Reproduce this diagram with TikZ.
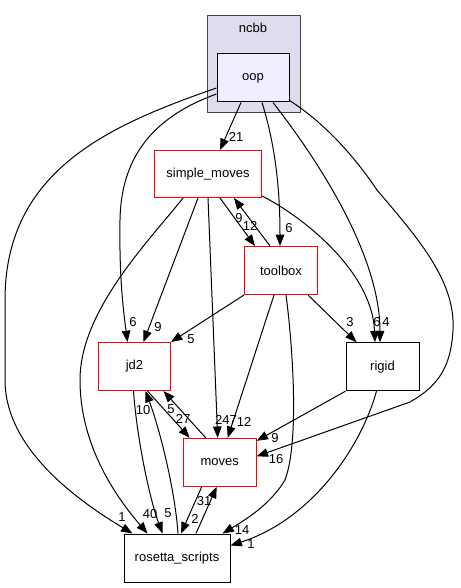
\documentclass[tikz,border=0pt]{standalone}
\usepackage{fontspec}
\setmainfont{Liberation Sans}
\usetikzlibrary{arrows.meta,calc}
\definecolor{clusterfill}{HTML}{DDDDEE}
\definecolor{clusterline}{HTML}{444444}
\definecolor{oopfill}{HTML}{EEEEFF}
\begin{document}
\begin{tikzpicture}[x=0.75pt,y=-0.75pt,
  every node/.style={font=\fontsize{9.75}{11}\selectfont},
  box/.style={draw=black,line width=0.75pt,fill=white,minimum height=36pt,inner sep=0pt},
  redbox/.style={box,draw=red},
  lbl/.style={inner sep=0pt},
  dep/.style={draw=black,line width=0.75pt,-{Triangle[length=8.5pt,width=6.5pt]}}]
\useasboundingbox (0,0) rectangle (460,588);
% cluster
\node[draw=clusterline,fill=clusterfill,line width=0.75pt,minimum width=69.75pt,minimum height=72.75pt,inner sep=0pt] (ncbbc) at (253.5,64.5) {};
\node[lbl] (ncbb) at (253,28) {ncbb};
% nodes
\node[box,fill=oopfill,minimum width=54pt] (oop) at (253,78) {oop};
\node[redbox,minimum width=80.25pt,minimum height=35.25pt] (sm) at (208,174) {simple\_moves};
\node[redbox,minimum width=54.75pt] (tb) at (281,270.5) {toolbox};
\node[redbox,minimum width=54pt] (jd2) at (134.5,366.5) {jd2};
\node[box,minimum width=54.75pt] (rigid) at (382.5,366.7) {rigid};
\node[redbox,minimum width=54.75pt] (moves) at (219.7,462.3) {moves};
\node[box,minimum width=79.5pt] (rs) at (177,558) {rosetta\_scripts};
% edges from oop
\draw[dep] ($(oop.south)+(-12,0)$) -- ($(sm.north)+(12,0)$);
\draw[dep] ($(oop.south)+(9,0)$) .. controls (272,135) and (280,175) .. ($(tb.north)+(-1,0)$);
\draw[dep] ($(oop.south)+(20,0)$) .. controls (310,150) and (380,250) .. ($(rigid.north)+(-2.5,0)$);
\draw[dep] ($(oop.south east)+(0,-2)$) .. controls (320,120) and (350,150) .. (377,190)
   .. controls (415,235) and (456,280) .. (453,330)
   .. controls (451,365) and (440,385) .. (410,402) -- ($(moves.east)+(0,-6)$);
\draw[dep] ($(oop.west)+(0,16)$) .. controls (150,118) and (121,160) .. (120,220)
   .. controls (119,280) and (124,315) .. ($(jd2.north)+(-7,0)$);
\draw[dep] ($(oop.west)+(0,10)$) .. controls (110,125) and (5,170) .. (5,300) -- (5,380)
   .. controls (5,440) and (60,490) .. ($(rs.north west)+(9,0)$);
% simple_moves
\draw[dep] ($(sm.south)+(12,0)$) -- ($(tb.north west)+(11,0)$);
\draw[dep] ($(tb.north)+(-11,0)$) -- ($(sm.south)+(26,0)$);
\draw[dep] ($(sm.south)+(-10,0)$) -- ($(jd2.north)+(9,0)$);
\draw[dep] (sm.south) -- ($(moves.north)+(-2,0)$);
\draw[dep] ($(sm.south east)+(0,-2)$) .. controls (300,215) and (372,270) .. ($(rigid.north)+(-7.5,0)$);
\draw[dep] ($(sm.south)+(-25,0)$) .. controls (150,240) and (80,310) .. (80,380)
   .. controls (80,440) and (110,490) .. ($(rs.north west)+(24,0)$);
% toolbox
\draw[dep] (tb.south west) -- (jd2.north east);
\draw[dep] ($(tb.south)+(-7,0)$) -- ($(moves.north)+(8,0)$);
\draw[dep] ($(tb.south east)+(-10,0)$) -- ($(rigid.north west)+(11,0)$);
\draw[dep] ($(tb.south)+(5,0)$) .. controls (292,340) and (300,440) .. (285,480)
   .. controls (270,505) and (245,520) .. ($(rs.north east)+(-8,0)$);
% rigid
\draw[dep] (rigid.south west) -- ($(moves.north east)+(0,3)$);
\draw[dep] ($(rigid.south)+(-6,0)$) .. controls (360,450) and (310,520) .. ($(rs.north east)+(0,12)$);
% jd2
\draw[dep] ($(jd2.south)+(13,0)$) -- ($(moves.north west)+(7,0)$);
\draw[dep] ($(moves.north west)+(23,0)$) -- ($(jd2.south)+(29,0)$);
\draw[dep] ($(jd2.south)+(-1,0)$) .. controls (137,440) and (150,500) .. ($(rs.north west)+(39,0)$);
\draw[dep] ($(rs.north)+(1,0)$) .. controls (175,490) and (160,430) .. ($(jd2.south)+(11,0)$);
% moves
\draw[dep] ($(moves.south west)+(19,0)$) -- ($(rs.north)+(4,0)$);
\draw[dep] ($(rs.north)+(19,0)$) -- ($(moves.south)+(-3,0)$);
% labels
\node[lbl] (l1) at (236,137) {21};
\node[lbl] (l2) at (289,228) {6};
\node[lbl] (l3) at (386,322) {4};
\node[lbl] (l4) at (377,322) {6};
\node[lbl] (l5) at (276,459) {16};
\node[lbl] (l6) at (133,322) {6};
\node[lbl] (l7) at (122,517) {1};
\node[lbl] (l8) at (239,218) {9};
\node[lbl] (l9) at (250,226) {12};
\node[lbl] (l10) at (158,327) {9};
\node[lbl] (l11) at (226,420) {247};
\node[lbl] (l12) at (150,514) {40};
\node[lbl] (l13) at (191,339) {5};
\node[lbl] (l14) at (244,422) {12};
\node[lbl] (l15) at (350,322) {3};
\node[lbl] (l16) at (242,530) {14};
\node[lbl] (l17) at (275,438) {9};
\node[lbl] (l18) at (251,544) {1};
\node[lbl] (l19) at (183,419) {27};
\node[lbl] (l20) at (171,409) {5};
\node[lbl] (l21) at (168,513) {5};
\node[lbl] (l22) at (143,410) {10};
\node[lbl] (l23) at (195,519) {2};
\node[lbl] (l24) at (204,501) {31};
\end{tikzpicture}
\end{document}
